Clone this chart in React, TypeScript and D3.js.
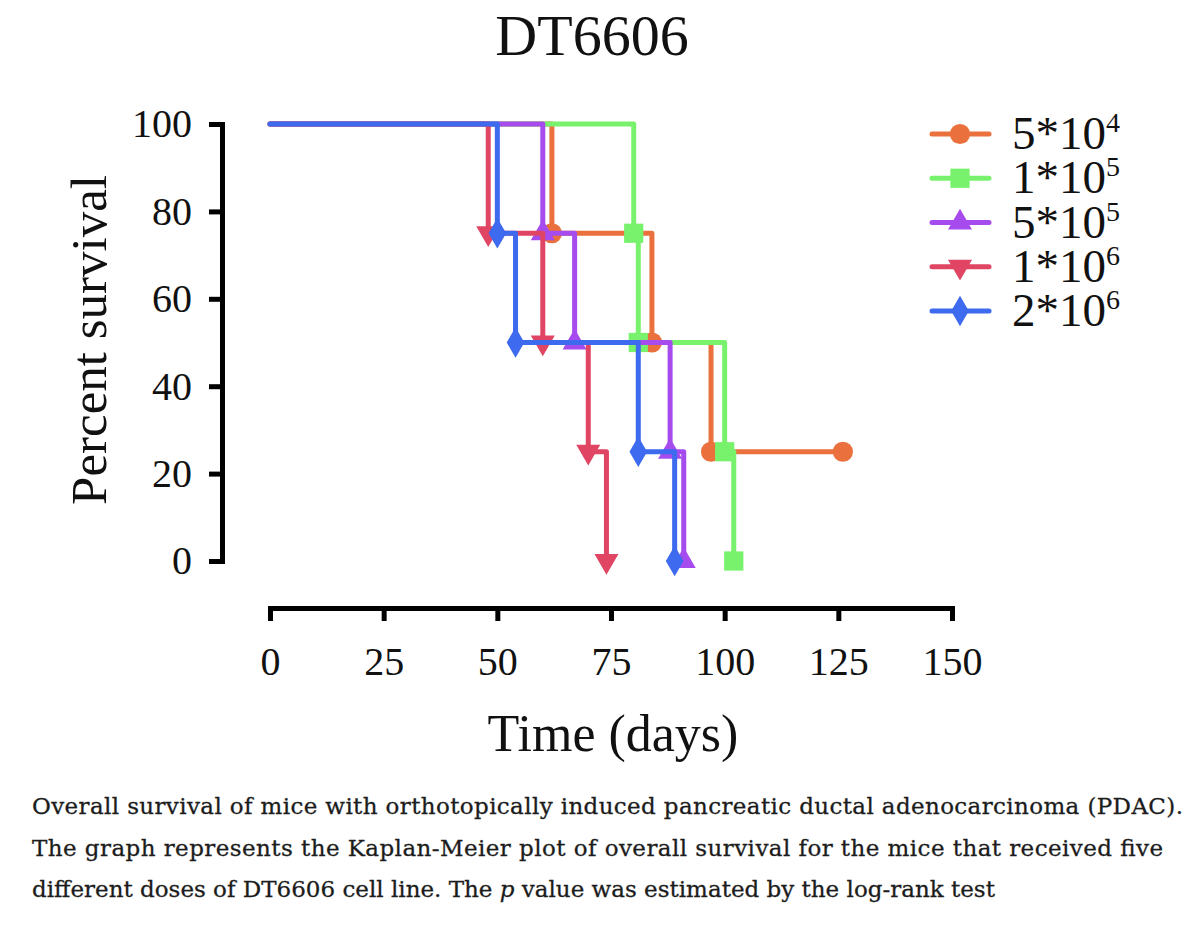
import React, { useEffect, useRef } from "react";
import * as d3 from "d3";

const title = "DT6606";
const seriesLabels = ["5*10", "1*10", "5*10", "1*10", "2*10"];
const seriesExponents = ["4", "5", "5", "6", "6"];
const seriesColors = ["#EA703E", "#78F26C", "#A64CEE", "#E04563", "#3D6AEF"];
const seriesShapes = ["circle", "square", "triangle", "triangleDown", "diamond"];

const s1Times = [0, 62, 84, 97, 126];
const s1Surv = [100, 75, 50, 25, 25];
const s2Times = [0, 80, 81, 100, 102];
const s2Surv = [100, 75, 50, 25, 0];
const s3Times = [0, 60, 67, 88, 91];
const s3Surv = [100, 75, 50, 25, 0];
const s4Times = [0, 48, 60, 70, 74];
const s4Surv = [100, 75, 50, 25, 0];
const s5Times = [0, 50, 54, 81, 89];
const s5Surv = [100, 75, 50, 25, 0];

const seriesTimes = [s1Times, s2Times, s3Times, s4Times, s5Times];
const seriesSurv = [s1Surv, s2Surv, s3Surv, s4Surv, s5Surv];

const xTicks = [0, 25, 50, 75, 100, 125, 150];
const yTicks = [0, 20, 40, 60, 80, 100];

const xLabel = "Time (days)";
const yLabel = "Percent survival";

const captionLines = [
  "Overall survival of mice with orthotopically induced pancreatic ductal adenocarcinoma (PDAC).",
  "The graph represents the Kaplan-Meier plot of overall survival for the mice that received five",
  "different doses of DT6606 cell line. The ",
];
const captionTail = " value was estimated by the log-rank test";

const FONT = "'Liberation Serif', 'Times New Roman', serif";

function symbolFor(shape: string) {
  switch (shape) {
    case "circle":
      return d3.symbol(d3.symbolCircle, 320);
    case "square":
      return d3.symbol(d3.symbolSquare, 370);
    case "triangle":
      return d3.symbol(d3.symbolTriangle, 250);
    case "triangleDown":
      return d3.symbol(d3.symbolTriangle, 250);
    default:
      return d3.symbol(d3.symbolDiamond, 270);
  }
}

export default function App() {
  const ref = useRef<SVGSVGElement | null>(null);

  useEffect(() => {
    const svg = d3.select(ref.current);
    svg.selectAll("*").remove();

    const x = d3.scaleLinear().domain([0, 150]).range([270, 952]);
    const y = d3.scaleLinear().domain([0, 100]).range([561, 124]);

    // Title
    svg
      .append("text")
      .attr("x", 592)
      .attr("y", 55)
      .attr("text-anchor", "middle")
      .attr("font-family", FONT)
      .attr("font-size", 58)
      .attr("fill", "#111")
      .text(title);

    // Y axis
    const yAxis = d3
      .axisLeft(y)
      .tickValues(yTicks)
      .tickSize(13)
      .tickSizeOuter(0)
      .tickPadding(17)
      .tickFormat(d3.format("d"));
    const gy = svg.append("g").attr("transform", "translate(222,0)").call(yAxis);
    gy.select(".domain").attr("stroke", "#000").attr("stroke-width", 5).attr("stroke-linecap", "square");
    gy.selectAll(".tick line").attr("stroke", "#000").attr("stroke-width", 5);
    gy.selectAll(".tick text")
      .attr("font-family", FONT)
      .attr("font-size", 40)
      .attr("fill", "#111");

    // X axis
    const xAxis = d3
      .axisBottom(x)
      .tickValues(xTicks)
      .tickSize(13)
      .tickSizeOuter(0)
      .tickPadding(26)
      .tickFormat(d3.format("d"));
    const gx = svg.append("g").attr("transform", "translate(0,608)").call(xAxis);
    gx.select(".domain").attr("stroke", "#000").attr("stroke-width", 5).attr("stroke-linecap", "square");
    gx.selectAll(".tick line").attr("stroke", "#000").attr("stroke-width", 5);
    gx.selectAll(".tick text")
      .attr("font-family", FONT)
      .attr("font-size", 40)
      .attr("fill", "#111");

    // Axis titles
    svg
      .append("text")
      .attr("x", 613)
      .attr("y", 751)
      .attr("text-anchor", "middle")
      .attr("font-family", FONT)
      .attr("font-size", 52)
      .attr("fill", "#111")
      .text(xLabel);
    svg
      .append("text")
      .attr("transform", "translate(106,340) rotate(-90)")
      .attr("text-anchor", "middle")
      .attr("font-family", FONT)
      .attr("font-size", 51)
      .attr("fill", "#111")
      .text(yLabel);

    // Curves
    const line = d3
      .line<[number, number]>()
      .x((d) => x(d[0]))
      .y((d) => y(d[1]))
      .curve(d3.curveStepAfter);

    seriesTimes.forEach((times, i) => {
      const pts: [number, number][] = times.map((t, j) => [t, seriesSurv[i][j]]);
      const g = svg.append("g");
      g.append("path")
        .attr("d", line(pts) || "")
        .attr("fill", "none")
        .attr("stroke", seriesColors[i])
        .attr("stroke-width", 5)
        .attr("stroke-linejoin", "round")
        .attr("stroke-linecap", "round");
      const sym = symbolFor(seriesShapes[i]);
      g.selectAll("path.marker")
        .data(pts.slice(1))
        .enter()
        .append("path")
        .attr("class", "marker")
        .attr("d", sym() || "")
        .attr(
          "transform",
          (d) =>
            `translate(${x(d[0])},${y(d[1])})` + (seriesShapes[i] === "triangleDown" ? " rotate(180)" : "")
        )
        .attr("fill", seriesColors[i]);
    });

    // Legend
    const legendY = d3.scalePoint<number>().domain([0, 1, 2, 3, 4]).range([134, 311]);
    seriesLabels.forEach((lab, i) => {
      const cy = legendY(i) as number;
      const g = svg.append("g");
      g.append("line")
        .attr("x1", 932)
        .attr("x2", 989)
        .attr("y1", cy)
        .attr("y2", cy)
        .attr("stroke", seriesColors[i])
        .attr("stroke-width", 5)
        .attr("stroke-linecap", "round");
      g.append("path")
        .attr("d", symbolFor(seriesShapes[i])() || "")
        .attr("transform", `translate(960,${cy})` + (seriesShapes[i] === "triangleDown" ? " rotate(180)" : ""))
        .attr("fill", seriesColors[i]);
      const t = g
        .append("text")
        .attr("x", 1012)
        .attr("y", cy + 15)
        .attr("font-family", FONT)
        .attr("font-size", 47)
        .attr("fill", "#111");
      t.append("tspan").text(lab);
      t.append("tspan").attr("font-size", 28).attr("dy", -17).text(seriesExponents[i]);
    });

    // Caption
    const capFont = "'DejaVu Serif', 'Noto Serif', serif";
    const capY = [814, 856, 897];
    const capWidths = [1151, 1131];
    captionLines.forEach((ln, i) => {
      const t = svg
        .append("text")
        .attr("x", 32)
        .attr("y", capY[i])
        .attr("font-family", capFont)
        .attr("font-size", 23)
        .attr("fill", "#1c1c1c")
        .attr("stroke", "#1c1c1c")
        .attr("stroke-width", 0.3);
      if (i < 2) {
        t.attr("textLength", capWidths[i]).attr("lengthAdjust", "spacing").text(ln);
      } else {
        t.append("tspan").text(ln);
        t.append("tspan").attr("font-style", "italic").text("p");
        t.append("tspan").text(captionTail);
      }
    });
  }, []);

  return (
    <svg
      ref={ref}
      width={1200}
      height={927}
      style={{ position: "absolute", left: 0, top: 0, background: "#fff" }}
    />
  );
}
